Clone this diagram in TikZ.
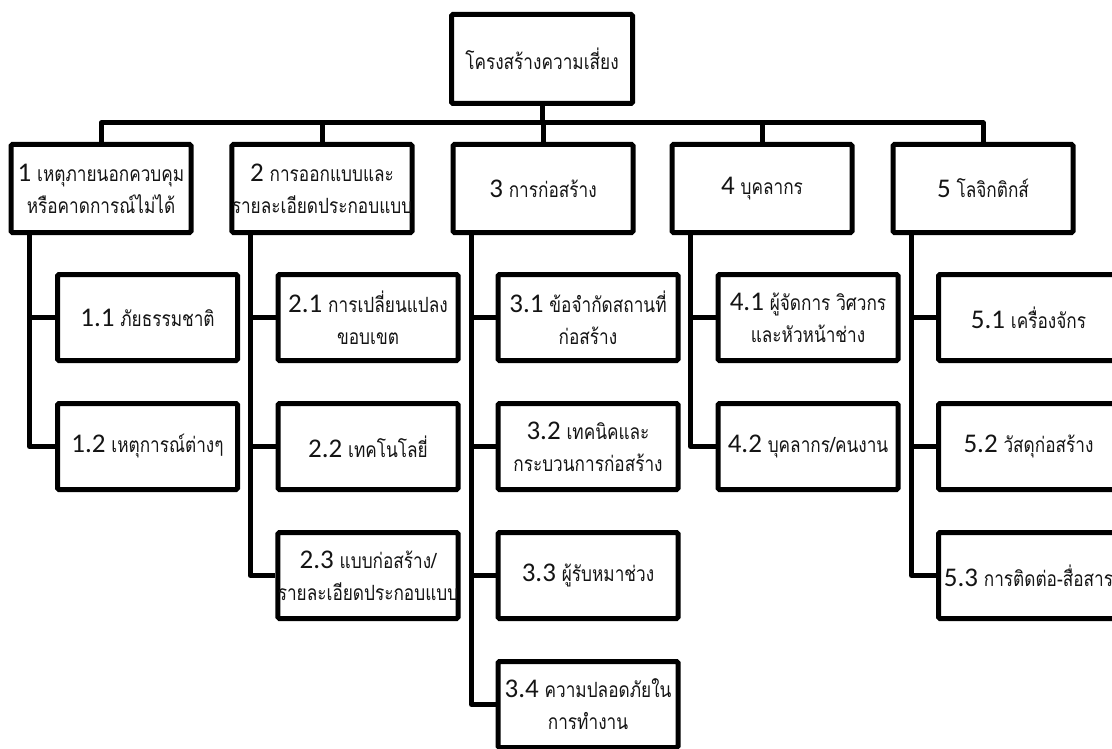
\documentclass[tikz,border=0pt]{standalone}
\usepackage{fontspec}
\newfontfamily\thaifont[Script=Thai,FakeStretch=0.82]{Loma}
\newfontfamily\numfont{Carlito}
\newcommand\nm[1]{{\numfont\fontsize{27}{32}\selectfont #1}}
\usetikzlibrary{calc}
\tikzset{
  frame/.style={draw=black, line width=5pt, rounded corners=1.5pt, inner sep=0pt,
    align=center, text=black!92, font=\thaifont\fontsize{21}{32}\selectfont},
  headbox/.style={frame, minimum width=181pt, minimum height=89pt},
  topbox/.style={frame, minimum width=180pt, minimum height=88pt},
  subbox/.style={frame, minimum width=180pt, minimum height=86pt},
  link/.style={draw=black, line width=5pt, line join=round}
}
\begin{document}
\begin{tikzpicture}[x=1pt,y=-1pt]
\useasboundingbox (0,0) rectangle (1112,749);
\clip (0,0) rectangle (1112,749);

% root
\node[headbox] (root) at (542,59) {โครงสร้างความเสี่ยง};

% main branches
\node[topbox] (b1) at (101,188.5) {\nm{1} เหตุภายนอกควบคุม\\หรือคาดการณ์ไม่ได้};
\node[topbox] (b2) at (322,188.5) {\nm{2} การออกแบบและ\\รายละเอียดประกอบแบบ};
\node[topbox] (b3) at (543,188.5) {\nm{3} การก่อสร้าง};
\node[topbox] (b4) at (762,188.5) {\nm{4} บุคลากร};
\node[topbox] (b5) at (983,188.5) {\nm{5} โลจิกติกส์};

% sub items
\node[subbox] (c11) at (147.5,317.5) {\nm{1.1} ภัยธรรมชาติ};
\node[subbox] (c12) at (147.5,446.5) {\nm{1.2} เหตุการณ์ต่างๆ};

\node[subbox] (c21) at (368,317.5) {\nm{2.1} การเปลี่ยนแปลง\\ขอบเขต};
\node[subbox] (c22) at (368,446.5) {\nm{2.2} เทคโนโลยี่};
\node[subbox] (c23) at (368,575.5) {\nm{2.3} แบบก่อสร้าง/\\รายละเอียดประกอบแบบ};

\node[subbox] (c31) at (588,317.5) {\nm{3.1} ข้อจำกัดสถานที่\\ก่อสร้าง};
\node[subbox] (c32) at (588,446.5) {\nm{3.2} เทคนิคและ\\กระบวนการก่อสร้าง};
\node[subbox] (c33) at (588,575.5) {\nm{3.3} ผู้รับหมาช่วง};
\node[subbox] (c34) at (588,704.5) {\nm{3.4} ความปลอดภัยใน\\การทำงาน};

\node[subbox] (c41) at (808,317.5) {\nm{4.1} ผู้จัดการ วิศวกร\\และหัวหน้าช่าง};
\node[subbox] (c42) at (808,446.5) {\nm{4.2} บุคลากร/คนงาน};

\node[subbox] (c51) at (1028.5,317.5) {\nm{5.1} เครื่องจักร};
\node[subbox] (c52) at (1028.5,446.5) {\nm{5.2} วัสดุก่อสร้าง};
\node[subbox] (c53) at (1028.5,575.5) {\nm{5.3} การติดต่อ-สื่อสาร};

% bus from the root to the five branches
\coordinate (bus) at (542,123);
\draw[link] (root.south) -- (bus);
\draw[link] (b1.north) |- (bus) -| (b5.north);
\draw[link] (b2.north) -- (b2.north |- bus);
\draw[link] (b3.north) -- (b3.north |- bus);
\draw[link] (b4.north) -- (b4.north |- bus);

% spines from each branch to its items
\foreach \p/\kids in {b1/{c11,c12}, b2/{c21,c22,c23}, b3/{c31,c32,c33,c34}, b4/{c41,c42}, b5/{c51,c52,c53}}{
  \foreach \k in \kids {
    \draw[link] ([xshift=21pt]\p.south west) |- (\k.west);
  }
}
\end{tikzpicture}
\end{document}
